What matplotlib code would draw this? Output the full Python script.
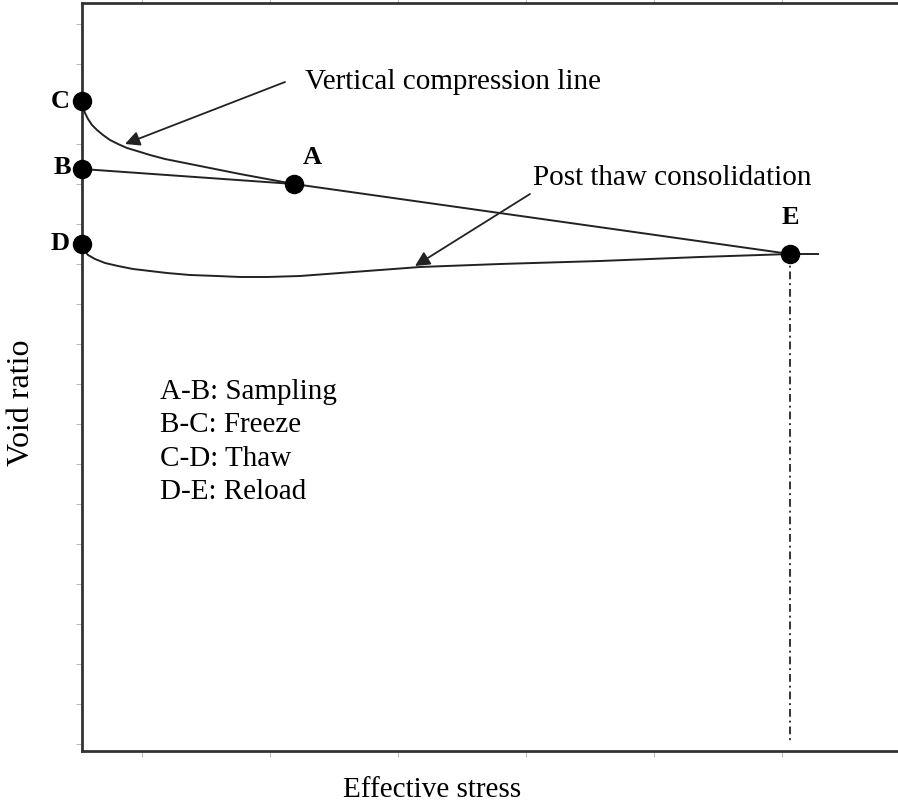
import numpy as np
import matplotlib
matplotlib.use('Agg')
import matplotlib.pyplot as plt

plt.rcParams['font.family'] = ['Liberation Serif', 'DejaVu Serif']

# key states (effective stress, void ratio), arbitrary units
point_names = ['C', 'B', 'D', 'A', 'E']
point_x = [0, 0, 0, 212, 708]
point_y = [650, 582, 507, 567, 497]

# vertical compression line C -> A -> E
vcl_x = [0, 1, 3, 6, 10, 15, 21, 28, 36, 45, 55, 68, 83, 103, 128, 158, 212, 708]
vcl_y = [650, 644, 638, 632, 626, 621, 616, 611, 607, 603, 600, 596, 592, 588, 583, 577, 567, 497]

# sampling B -> A
ba_x = [0, 212]
ba_y = [582, 567]

# post thaw consolidation D -> E
pt_x = [0, 2, 6, 13, 23, 36, 51, 68, 85, 108, 135, 158, 185, 218, 258, 298, 338,
        418, 518, 618, 708, 736]
pt_y = [507, 501, 496, 492, 488, 485, 482, 480, 478, 476, 475, 474, 474, 475, 478, 481, 484,
        487, 490, 494, 497, 497]

legend_lines = ['A-B: Sampling', 'B-C: Freeze', 'C-D: Thaw', 'D-E: Reload']

fig = plt.figure(figsize=(8.98, 8.03), dpi=100)
ax = fig.add_axes([82 / 898, 51 / 803, 816 / 898, 748 / 803])
ax.set_xlim(0, 816)
ax.set_ylim(0, 748)

line_kw = dict(color='#222222', lw=1.4)
ax.plot(vcl_x, vcl_y, **line_kw)
ax.plot(ba_x, ba_y, **line_kw)
ax.plot(pt_x, pt_y, **line_kw)

# dash-dot drop from E
ax.plot([point_x[4], point_x[4]], [point_y[4], 7], color='#333333', lw=1.4,
        linestyle=(0, (4, 2, 1, 2)))

ax.plot(point_x, point_y, 'o', color='black', markersize=13, clip_on=False, zorder=5)

label_off = {'C': (-22, 0), 'B': (-20, 2), 'D': (-22, 2), 'A': (18, 28), 'E': (0, 37)}
for n, x, y in zip(point_names, point_x, point_y):
    dx, dy = label_off[n]
    ax.text(x + dx, y + dy, n, fontsize=19, fontweight='bold', ha='center', va='center')

arrow_kw = dict(arrowstyle='-|>', color='#222222', lw=1.3, mutation_scale=22,
                shrinkA=0, shrinkB=0)
ax.annotate('', xy=(43, 607), xytext=(203, 669), arrowprops=arrow_kw)
ax.text(223, 670, 'Vertical compression line', fontsize=21, ha='left', va='center')
ax.annotate('', xy=(333, 485), xytext=(448, 557), arrowprops=arrow_kw)
ax.text(451, 574, 'Post thaw consolidation', fontsize=21, ha='left', va='center')

for i, s in enumerate(legend_lines):
    ax.text(78, 360 - i * 33.3, s, fontsize=21, ha='left', va='center')

ax.set_xticks(np.arange(60, 816, 128))
ax.set_yticks(np.arange(7, 748, 40))
ax.tick_params(which='both', direction='out', length=4, color='#bbbbbb',
               labelleft=False, labelbottom=False, top=True)
for s in ['left', 'bottom', 'top']:
    ax.spines[s].set_color('#333333')
    ax.spines[s].set_linewidth(2)
ax.spines['right'].set_visible(False)

fig.text(432 / 898, 1 - 797 / 803, 'Effective stress', fontsize=21, ha='center', va='baseline')
fig.text(22 / 898, 1 - 403 / 803, 'Void ratio', fontsize=23, ha='center', va='center',
         rotation=90)

fig.savefig('out.png', dpi=100)
